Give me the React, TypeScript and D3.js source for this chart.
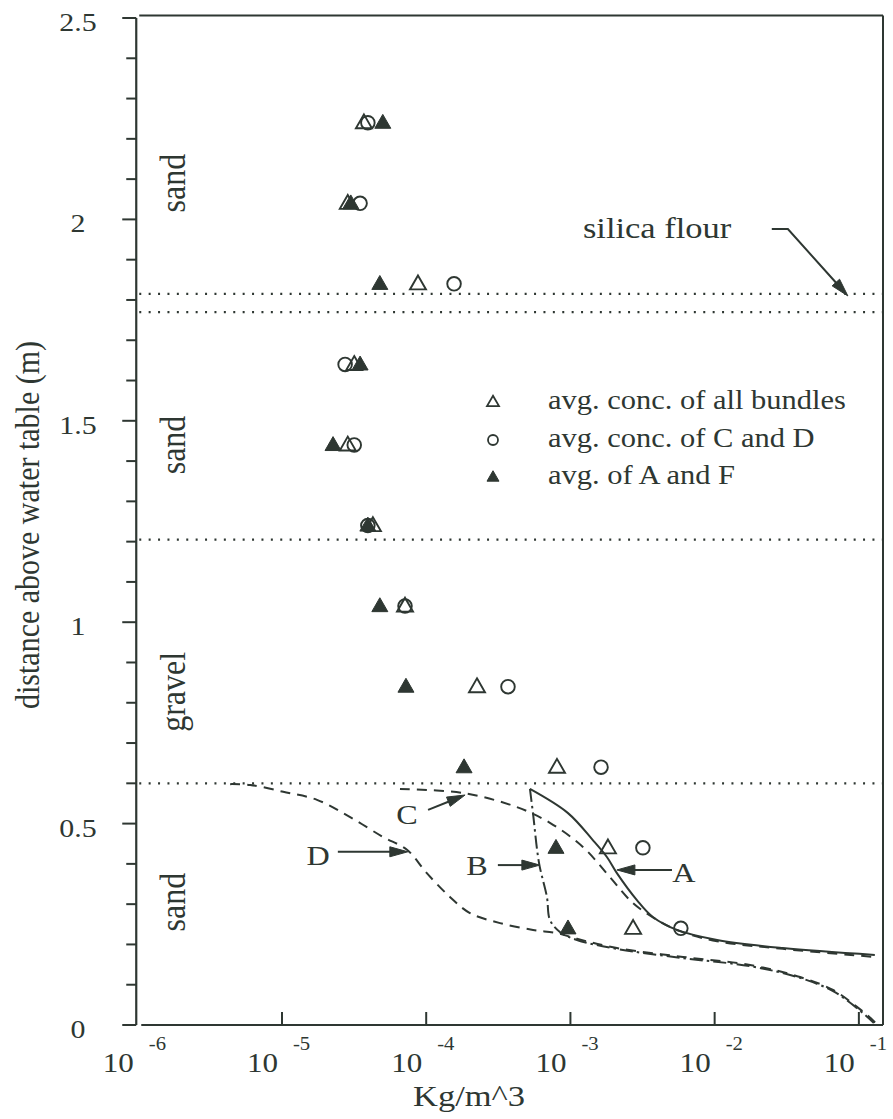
import React from "react";
import * as d3 from "d3";

const INK = "#2e3732";
const FONT = "'Liberation Serif', 'Times New Roman', Times, serif";
const W = 893;
const H = 1119;

// axis ticks
const yTickValues = [0, 0.5, 1, 1.5, 2, 2.5];
const yTickLabels = ["0", "0.5", "1", "1.5", "2", "2.5"];
const yMinorTicks = [0.1, 0.2, 0.3, 0.4, 0.6, 0.7, 0.8, 0.9, 1.1, 1.2, 1.3, 1.4, 1.6, 1.7, 1.8, 1.9, 2.1, 2.2, 2.3, 2.4];
const xTickExponents = [-6, -5, -4, -3, -2, -1];

// measured points
const depths = [2.24, 2.04, 1.84, 1.64, 1.44, 1.24, 1.04, 0.84, 0.64, 0.44, 0.24];
const allBundles = [3.7e-5, 2.86e-5, 8.77e-5, 3.17e-5, 2.86e-5, 4.27e-5, 7.13e-5, 2.25e-4, 8.07e-4, 1.82e-3, 2.72e-3];
const bundlesCD = [3.94e-5, 3.48e-5, 1.56e-4, 2.74e-5, 3.17e-5, 3.94e-5, 7.13e-5, 3.69e-4, 1.63e-3, 3.18e-3, 5.83e-3];
const bundlesAF = [5.0e-5, 3.0e-5, 4.77e-5, 3.48e-5, 2.26e-5, 3.94e-5, 4.77e-5, 7.24e-5, 1.83e-4, 7.94e-4, 9.62e-4];

// model curves
const curveAx = [5.24e-4, 9.62e-4, 1.43e-3, 1.79e-3, 2.1e-3, 2.89e-3, 3.73e-3, 5.47e-3, 1.04e-2, 2.97e-2, 0.129];
const curveAy = [0.586, 0.526, 0.459, 0.417, 0.377, 0.31, 0.268, 0.236, 0.211, 0.191, 0.174];
const curveBx = [5.24e-4, 5.5e-4, 6.06e-4, 6.87e-4, 7.21e-4, 8.45e-4, 1.11e-3, 2.1e-3, 6.04e-3, 1.76e-2, 3.91e-2, 6.62e-2, 9.7e-2, 0.127];
const curveBy = [0.586, 0.526, 0.402, 0.318, 0.261, 0.231, 0.211, 0.189, 0.166, 0.146, 0.117, 0.084, 0.042, 0.005];
const curveCx = [6.58e-5, 1.8e-4, 4.25e-4, 7.21e-4, 1.22e-3, 1.88e-3, 2.71e-3, 3.98e-3, 5.74e-3, 1.04e-2, 2.97e-2, 0.129];
const curveCy = [0.586, 0.576, 0.541, 0.502, 0.442, 0.367, 0.303, 0.261, 0.233, 0.208, 0.189, 0.169];
const curveDx = [4.37e-6, 6.02e-6, 1.02e-5, 1.75e-5, 2.97e-5, 5.01e-5, 7.36e-5, 1.01e-4, 1.46e-4, 2.01e-4, 3.25e-4, 5.51e-4, 8.07e-4, 1.11e-3, 2.1e-3, 6.04e-3, 1.76e-2, 3.91e-2, 6.62e-2, 9.7e-2, 0.125, 0.134];
const curveDy = [0.598, 0.596, 0.579, 0.559, 0.516, 0.467, 0.435, 0.377, 0.318, 0.278, 0.253, 0.236, 0.228, 0.214, 0.191, 0.169, 0.149, 0.119, 0.087, 0.045, 0.012, 0.0];

// soil layers
const layerBounds = [1.815, 1.77, 1.205, 0.6];
const layerLabels = ["sand", "sand", "gravel", "sand"];
const layerLabelDepths = [2.09, 1.44, 0.827, 0.305];

// curve annotations
const curveLabels = ["A", "B", "C", "D"];
const curveLabelX = [6.12e-3, 2.25e-4, 7.36e-5, 1.78e-5];
const curveLabelY = [0.38, 0.397, 0.524, 0.422];
const arrowFromX = [5.06e-3, 3.14e-4, 1.03e-4, 2.44e-5];
const arrowFromY = [0.385, 0.397, 0.534, 0.43];
const arrowToX = [2.1e-3, 6.14e-4, 1.86e-4, 7.46e-5];
const arrowToY = [0.385, 0.397, 0.571, 0.43];

const silicaText = "silica flour";
const silicaTextPos = [1.22e-3, 1.954];
const silicaArrowX = [2.49e-2, 3.22e-2, 8.39e-2];
const silicaArrowY = [1.976, 1.976, 1.81];

const legendLabels = ["avg. conc. of all bundles", "avg. conc. of C and D", "avg. of A and F"];

const SX = 1.15;

function SText(props: any) {
  const { x, y, size, anchor = "start", rotate = false, children } = props;
  return (
    <text
      transform={`translate(${x},${y}) scale(${SX},1)${rotate ? " rotate(-90)" : ""}`}
      fontSize={size}
      textAnchor={anchor}
      fontFamily={FONT}
      fill={INK}
    >
      {children}
    </text>
  );
}

function triPath(cx: number, cy: number, s: number) {
  const h = s * 0.87;
  return `M${cx},${cy - h * 0.6}L${cx + s / 2},${cy + h * 0.4}L${cx - s / 2},${cy + h * 0.4}Z`;
}

function Arrow({ pts, head = 18, half = 5 }: { pts: [number, number][]; head?: number; half?: number }) {
  const n = pts.length;
  const [tx, ty] = pts[n - 1];
  const [px, py] = pts[n - 2];
  const dx = tx - px, dy = ty - py;
  const L = Math.hypot(dx, dy);
  const ux = dx / L, uy = dy / L;
  const bx = tx - ux * head, by = ty - uy * head;
  const line = pts.slice(0, n - 1).concat([[bx + ux * 2, by + uy * 2]]);
  const d = "M" + line.map((p) => p.join(",")).join("L");
  const head_d = `M${tx},${ty}L${bx - uy * half},${by + ux * half}L${bx + uy * half},${by - ux * half}Z`;
  return (
    <g>
      <path d={d} fill="none" stroke={INK} strokeWidth={2} />
      <path d={head_d} fill={INK} stroke={INK} strokeWidth={1} strokeLinejoin="round" />
    </g>
  );
}

export default function App() {
  const x = d3.scaleLog().domain([1e-6, 0.147]).range([137.75, 883]);
  const y = d3.scaleLinear().domain([0, 2.5]).range([1025, 18]);

  const xL = x(1e-6) - 1.5;
  const xR = x(0.147);
  const yB = y(0);
  const yT = y(2.5) - 2.5;

  const line = d3
    .line<[number, number]>()
    .x((d) => x(d[0]))
    .y((d) => y(d[1]))
    .curve(d3.curveCatmullRom.alpha(0.5));

  const mk = (xs: number[], ys: number[]) => xs.map((v, i) => [v, ys[i]] as [number, number]);

  const curves = [
    { d: line(mk(curveDx, curveDy)), dash: "10,7" },
    { d: line(mk(curveCx, curveCy)), dash: "10,7" },
    { d: line(mk(curveBx, curveBy)), dash: "13,4,2.5,4" },
    { d: line(mk(curveAx, curveAy)), dash: "none" },
  ];

  const legendY = [402, 440, 477];

  return (
    <svg width={W} height={H} style={{ position: "absolute", left: 0, top: 0, background: "#fff" }}>
      <rect x={0} y={0} width={W} height={H} fill="#fff" />
      {/* frame */}
      <line x1={xL} y1={y(2.5)} x2={xL} y2={yB} stroke={INK} strokeWidth={2.2} />
      <line x1={xL + 5} y1={yB} x2={xR} y2={yB} stroke={INK} strokeWidth={2.2} />
      <line x1={xL + 3} y1={yT} x2={xR} y2={yT} stroke={INK} strokeWidth={2} />
      <line x1={xR} y1={yT} x2={xR} y2={yB} stroke={INK} strokeWidth={2} />

      {/* y ticks */}
      {yTickValues.map((v) => (
        <line key={"ym" + v} x1={xL - 14} x2={xL} y1={y(v)} y2={y(v)} stroke={INK} strokeWidth={2} />
      ))}
      {yMinorTicks.map((v) => (
        <line key={"yn" + v} x1={xL - 10} x2={xL} y1={y(v)} y2={y(v)} stroke={INK} strokeWidth={2} />
      ))}
      {yTickValues.map((v, i) => (
        <SText key={"yl" + v} x={78} y={y(v) + 13} size={26} anchor="middle">
          {yTickLabels[i]}
        </SText>
      ))}

      {/* x ticks */}
      {xTickExponents.slice(1).map((e) => (
        <line key={"xt" + e} x1={x(Math.pow(10, e))} x2={x(Math.pow(10, e))} y1={yB} y2={yB - 13} stroke={INK} strokeWidth={2} />
      ))}
      {xTickExponents.map((e) => {
        const px = x(Math.pow(10, e));
        return (
          <g key={"xl" + e}>
            <SText x={px - 4} y={1072} size={27} anchor="end">10</SText>
            <SText x={px + 11} y={1050} size={18} anchor="start">{String(e)}</SText>
          </g>
        );
      })}

      {/* axis titles */}
      <SText x={469} y={1106} size={30} anchor="middle">Kg/m^3</SText>
      <SText x={39} y={525} size={30} anchor="middle" rotate>
        distance above water table (m)
      </SText>

      {/* layer boundaries */}
      {layerBounds.map((v) => (
        <line key={"lb" + v} x1={xL + 3} x2={xR} y1={y(v)} y2={y(v)} stroke={INK} strokeWidth={2.2} strokeDasharray="2,7.4" />
      ))}
      {layerLabels.map((t, i) => (
        <SText key={"ll" + i} x={185} y={y(layerLabelDepths[i])} size={32} anchor="middle" rotate>
          {t}
        </SText>
      ))}

      {/* curves */}
      {curves.map((c, i) => (
        <path key={"c" + i} d={c.d || ""} fill="none" stroke={INK} strokeWidth={2} strokeDasharray={c.dash} />
      ))}

      {/* curve labels and arrows */}
      {curveLabels.map((t, i) => (
        <g key={"cl" + t}>
          <SText x={x(curveLabelX[i])} y={y(curveLabelY[i]) + 10} size={28} anchor="middle">{t}</SText>
          <Arrow
            pts={[
              [x(arrowFromX[i]), y(arrowFromY[i])],
              [x(arrowToX[i]), y(arrowToY[i])],
            ]}
          />
        </g>
      ))}

      {/* silica flour */}
      <SText x={x(silicaTextPos[0])} y={y(silicaTextPos[1])} size={30}>{silicaText}</SText>
      <Arrow pts={silicaArrowX.map((v, i) => [x(v), y(silicaArrowY[i])] as [number, number])} />

      {/* data points */}
      {depths.map((dep, i) => (
        <circle key={"cd" + i} cx={x(bundlesCD[i])} cy={y(dep)} r={6.8} fill="none" stroke={INK} strokeWidth={1.9} />
      ))}
      {depths.map((dep, i) => (
        <path key={"ab" + i} d={triPath(x(allBundles[i]), y(dep), 16)} fill="none" stroke={INK} strokeWidth={1.9} strokeLinejoin="miter" />
      ))}
      {depths.map((dep, i) => (
        <path key={"af" + i} d={triPath(x(bundlesAF[i]), y(dep), 16)} fill={INK} stroke={INK} strokeWidth={1} />
      ))}

      {/* legend */}
      <path d={triPath(493, legendY[0], 12)} fill="none" stroke={INK} strokeWidth={1.8} />
      <circle cx={493} cy={legendY[1]} r={5} fill="none" stroke={INK} strokeWidth={1.8} />
      <path d={triPath(493, legendY[2], 12)} fill={INK} stroke={INK} strokeWidth={1} />
      {legendLabels.map((t, i) => (
        <SText key={"lg" + i} x={548} y={legendY[i] + 7} size={26.5}>{t}</SText>
      ))}
    </svg>
  );
}
